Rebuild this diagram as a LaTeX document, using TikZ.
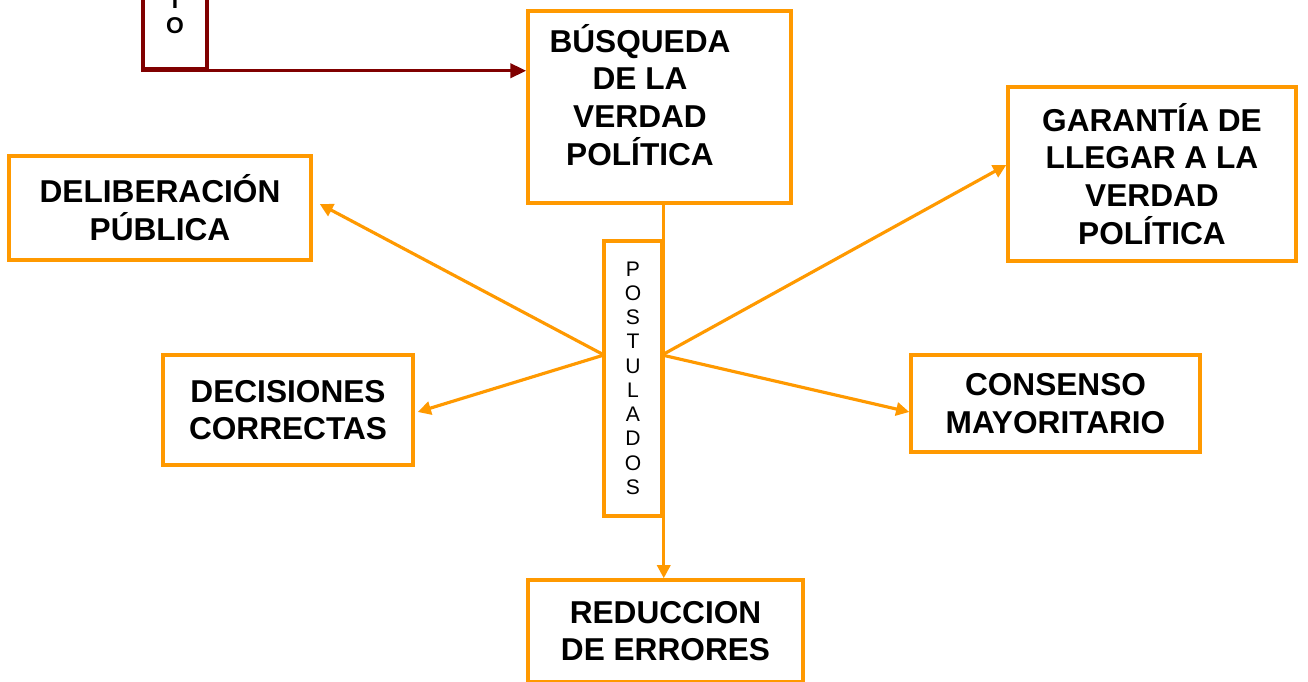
\documentclass[tikz,border=0pt]{standalone}
\usepackage{fontspec}
\setmainfont{Liberation Sans}
\usepackage{tikz}
\usetikzlibrary{arrows.meta}

\definecolor{naranja}{RGB}{255,153,0}
\definecolor{granate}{RGB}{128,0,0}

\begin{document}
\begin{tikzpicture}[x=0.02cm, y=-0.02cm, line join=miter,
    caja/.style={draw=naranja, line width=2pt, rectangle, inner sep=0pt},
    texto/.style={align=center, font=\fontsize{18}{21.5}\selectfont\bfseries},
    flecha/.style={draw=naranja, line width=1.8pt, -{Triangle[length=7.5pt,width=7.5pt]}}]
      \useasboundingbox (0,0) rectangle (1308,682);

      % Boxes
      \node[caja, minimum width=5.26cm, minimum height=3.84cm] (busq) at (659.5,107) {};
      \node[texto] (busqtxt) at (640,95) {BÚSQUEDA\\DE LA\\VERDAD\\POLÍTICA};
      \node[caja, minimum width=6.04cm, minimum height=2.08cm, texto] (delib) at (160,208) {DELIBERACIÓN\\PÚBLICA};
      \node[caja, minimum width=5.0cm, minimum height=2.2cm, texto] (decis) at (288,410) {DECISIONES\\CORRECTAS};
      \node[caja, minimum width=5.76cm, minimum height=3.48cm, texto] (garan) at (1152,174) {GARANTÍA DE\\LLEGAR A LA\\VERDAD\\POLÍTICA};
      \node[caja, minimum width=5.78cm, minimum height=1.94cm, texto] (conse) at (1055.5,403.5) {CONSENSO\\MAYORITARIO};
      \node[caja, minimum width=5.5cm, minimum height=2.04cm, texto] (reduc) at (665.5,631) {REDUCCION\\DE ERRORES};

      % Vertical box
      \node[caja, minimum width=1.16cm, minimum height=5.5cm] (post) at (633,378.5) {};
      \node[align=center, font=\fontsize{12}{13.8}\selectfont] (posttxt) at (633,378) {P\\O\\S\\T\\U\\L\\A\\D\\O\\S};

      % Top box (cut off)
      \node[draw=granate, line width=2pt, minimum width=1.28cm, minimum height=2.58cm, inner sep=0pt] (arriba) at (175,4.5) {};
      \node[align=center, font=\fontsize{13}{14}\selectfont\bfseries] (arribatxt) at (175,13.5) {I\\O};

      % Connectors
      \coordinate (hubL) at (604,355);
      \coordinate (hubR) at (662,355);
      \draw[draw=granate, line width=2pt, -{Triangle[length=9pt,width=8pt]}] (arriba.south west) -- (arriba.south west -| busq.west);
      \draw[flecha] (post.east |- busq.south) -- (post.east |- reduc.north);
      \draw[flecha] (hubL) -- ([xshift=0.14cm,yshift=0.08cm]delib.east);
      \draw[flecha] (hubL) -- ([xshift=0.06cm,yshift=-0.04cm]decis.east);
      \draw[flecha] (hubR) -- ([yshift=0.18cm]garan.west);
      \draw[flecha] (hubR) -- ([yshift=-0.17cm]conse.west);

\end{tikzpicture}
\end{document}
